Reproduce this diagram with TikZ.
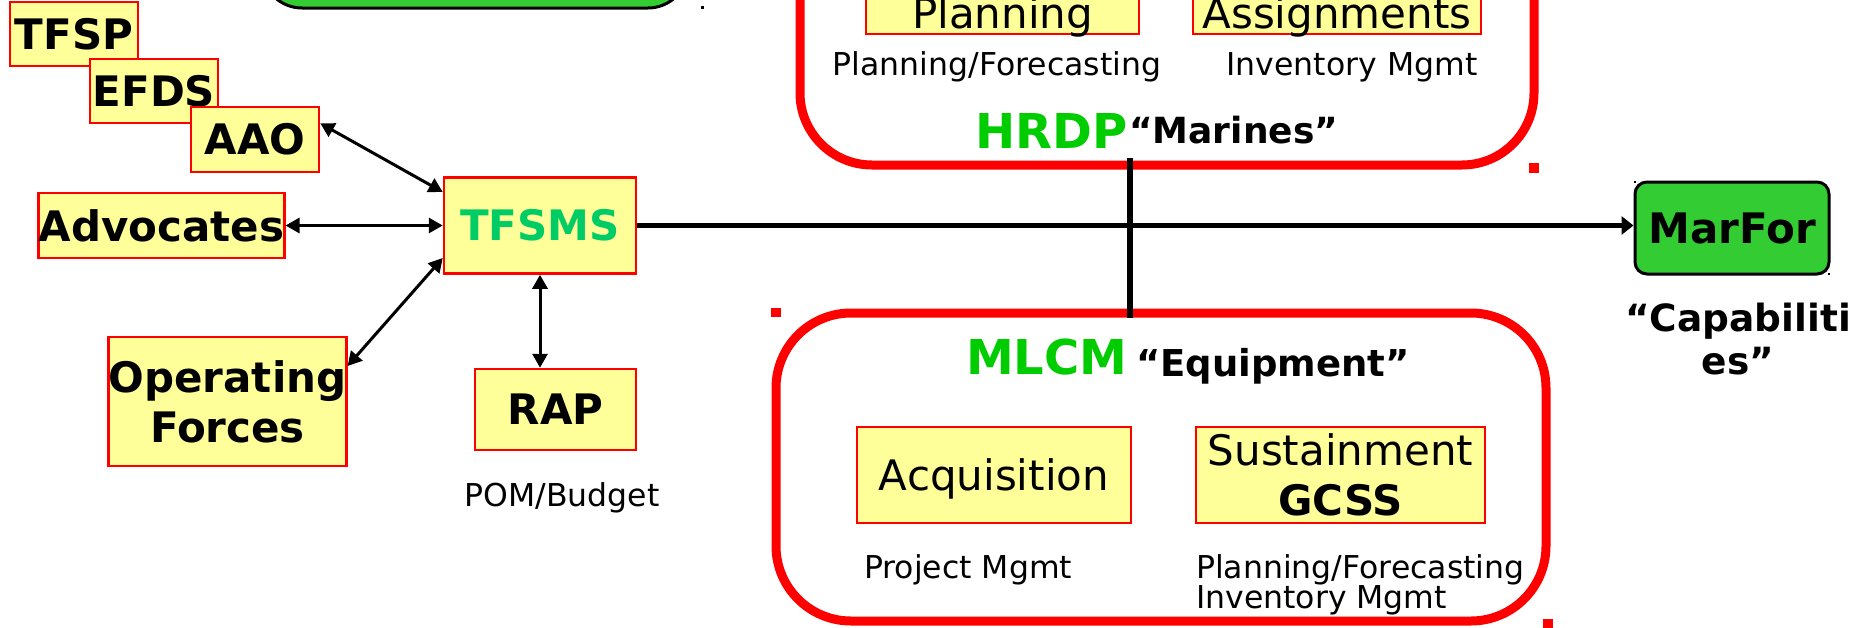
\documentclass[tikz,border=0pt]{standalone}
\usepackage{fontspec}
\setmainfont{DejaVu Sans}
\usetikzlibrary{arrows.meta,calc}
\definecolor{boxy}{HTML}{FFFF99}
\definecolor{tgreen}{HTML}{00CC66}
\definecolor{hgreen}{HTML}{00CC00}
\definecolor{mgreen}{HTML}{33CC33}
\newcommand\fsBig{\fontsize{42}{50}\selectfont}
\newcommand\fsSmall{\fontsize{31.5}{29}\selectfont}
\begin{document}
\begin{tikzpicture}[x=1pt,y=-1pt,
  ybox/.style={draw=red, line width=2.5pt, fill=boxy, inner sep=0pt, align=center, font=\fsBig\bfseries},
  rbox/.style={draw=red, line width=2.5pt, fill=boxy, inner sep=0pt, align=center, font=\fsBig},
  bigbox/.style={draw=red, line width=9pt, rounded corners=72pt, inner sep=0pt},
  gbox/.style={draw=black, line width=3pt, fill=mgreen, inner sep=0pt},
  lbl/.style={inner sep=0pt, font=\fsSmall, align=left},
  conn/.style={line width=3pt, {Triangle[length=14pt,width=15pt]}-{Triangle[length=14pt,width=15pt]}},
  mainarrow/.style={line width=5.5pt, -{Triangle[length=12pt,width=18pt]}},
  dotmark/.style={fill=red},
]
\useasboundingbox (0,0) rectangle (1864,627);

% top green box (cut off)
\node[gbox, rounded corners=40pt, minimum width=426pt, minimum height=140pt] (topbox) at (475,-62) {};
\fill (701,6) rectangle (704,9);

% left cluster
\node[ybox, minimum width=128pt, minimum height=64pt] (tfsp) at (74,34) {TFSP};
\node[ybox, minimum width=128pt, minimum height=64pt] (efds) at (154,91) {EFDS};
\node[ybox, minimum width=128pt, minimum height=65pt] (aao) at (255,139.5) {AAO};
\node[ybox, minimum width=241pt, minimum height=65pt] (adv) at (161.5,225.5) {Advocates};
\node[ybox, minimum width=192pt, minimum height=96pt, text=tgreen] (tfsms) at (540,225.5) {TFSMS};
\node[ybox, minimum width=209pt, minimum height=129pt] (opf) at (227.5,401.5) {Operating\\Forces};
\node[ybox, minimum width=161pt, minimum height=81pt] (rap) at (555.5,409.5) {RAP};
\node[lbl, anchor=base] (pom) at (562,506) {POM/Budget};

% HRDP block
\node[bigbox, minimum width=734pt, minimum height=400pt] (hrdp) at (1167,-35) {};
\node[rbox, minimum width=273pt, minimum height=96pt] (plan) at (1002.5,-14) {};
\node[inner sep=0pt, font=\fsBig, anchor=base] (plant) at (1002.5,28) {Planning};
\node[rbox, minimum width=288pt, minimum height=96pt] (assg) at (1337,-14) {};
\node[inner sep=0pt, font=\fsBig, anchor=base] (assgt) at (1337,28) {Assignments};
\node[lbl, anchor=base] (pf1) at (997,75) {Planning/Forecasting};
\node[lbl, anchor=base] (im1) at (1352,75) {Inventory Mgmt};
\node[inner sep=0pt, anchor=base west, text=hgreen, font=\fontsize{48}{50}\selectfont\bfseries] (hrdpt) at (975,148) {HRDP};
\node[inner sep=0pt, anchor=base west, font=\fontsize{36}{40}\selectfont\bfseries] (marines) at (1129,143) {“Marines”};
\fill[dotmark] (1529,163) rectangle (1539,173);

% MLCM block
\node[bigbox, rounded corners=75pt, minimum width=770pt, minimum height=308pt] (mlcm) at (1161,467) {};
\fill[dotmark] (771,308) rectangle (781,317);
\fill[dotmark] (1543,619) rectangle (1553,628);
\node[inner sep=0pt, anchor=base west, text=hgreen, font=\fontsize{48}{50}\selectfont\bfseries] (mlcmt) at (966,374) {MLCM};
\node[inner sep=0pt, anchor=base west, font=\fontsize{37}{40}\selectfont\bfseries] (equip) at (1136,376) {“Equipment”};
\node[rbox, minimum width=274pt, minimum height=96pt, text depth=0pt] (acq) at (994,475) {Acquisition};
\node[rbox, minimum width=289pt, minimum height=96pt] (sust) at (1340.5,475) {Sustainment\\\textbf{GCSS}};
\node[lbl, anchor=base west] (pm) at (864,578) {Project Mgmt};
\node[lbl, anchor=north west] (pf2) at (1196,554) {Planning/Forecasting\\Inventory Mgmt};

% MarFor
\node[gbox, rounded corners=12pt, minimum width=194pt, minimum height=92pt, font=\fsBig\bfseries] (marfor) at (1732,228) {MarFor};
\fill (1634,181) rectangle (1636,183);
\fill (1828,273) rectangle (1830,275);
\node[inner sep=0pt, anchor=north, align=center, font=\fontsize{37.5}{43}\selectfont\bfseries] (capab) at (1738,303) {“Capabiliti\\es”};

% connectors
\coordinate (vt) at (1130,158);
\coordinate (vb) at (1130,318);
\draw[line width=5.5pt] (vt) -- (vb);
\draw[mainarrow] (tfsms.east) -- (tfsms.east -| marfor.west);
\draw[conn] ($(aao.north east)!0.26!(aao.south east)$) -- ($(tfsms.north west)!0.16!(tfsms.south west)$);
\draw[conn] (adv.east) -- (tfsms.west);
\draw[conn] ($(opf.north east)!0.23!(opf.south east)$) -- ($(tfsms.north west)!0.83!(tfsms.south west)$);
\draw[conn] (tfsms.south) -- (tfsms.south |- rap.north);
\end{tikzpicture}
\end{document}
